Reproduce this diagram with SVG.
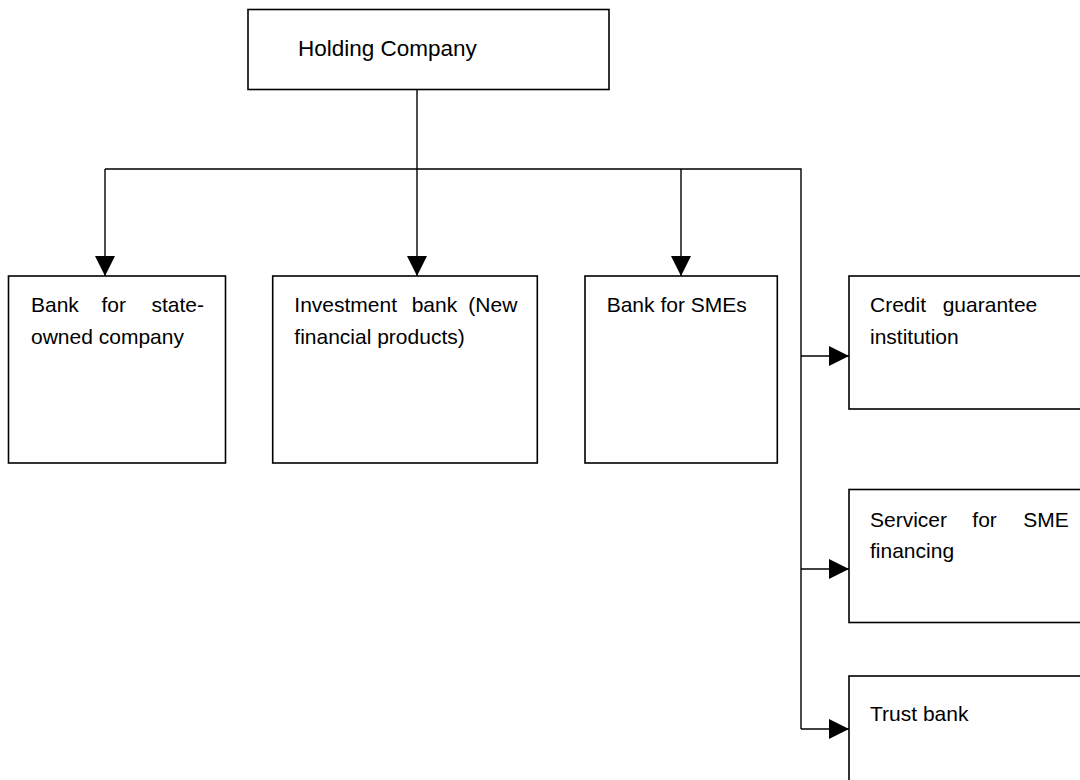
<svg xmlns="http://www.w3.org/2000/svg" width="1080" height="780" viewBox="0 0 1080 780">
<defs>
<style>
.box{fill:#fff;stroke:#000;stroke-width:1.6}
.ln{fill:none;stroke:#000;stroke-width:1.4}
.t{font-family:"Liberation Sans",Arial,sans-serif;font-size:21px;fill:#000}
.h{font-family:"Liberation Sans",Arial,sans-serif;font-size:22.5px;fill:#000}
</style>
<marker id="ah" markerUnits="userSpaceOnUse" markerWidth="20" markerHeight="20" viewBox="0 0 20 20" refX="20" refY="10" orient="auto">
<polygon points="0,0 20,10 0,20" fill="#000"/>
</marker>
</defs>
<rect width="1080" height="780" fill="#fff"/>
<g id="connectors">
<path class="ln" d="M417,89 V169"/>
<path class="ln" d="M105,169 H801 V729"/>
<path class="ln" d="M105,169 V276" marker-end="url(#ah)"/>
<path class="ln" d="M417,169 V276" marker-end="url(#ah)"/>
<path class="ln" d="M681,169 V276" marker-end="url(#ah)"/>
<path class="ln" d="M801,356 H849" marker-end="url(#ah)"/>
<path class="ln" d="M801,569 H849" marker-end="url(#ah)"/>
<path class="ln" d="M801,729 H849" marker-end="url(#ah)"/>
</g>
<g id="holding">
<rect class="box" x="248" y="9.5" width="361" height="80"/>
<text class="h" x="298" y="56">Holding Company</text>
</g>
<g id="bank-state">
<rect class="box" x="8.5" y="276" width="217" height="187"/>
<text class="t" y="312"><tspan x="31">Bank</tspan><tspan x="101.5">for</tspan><tspan x="151.5">state-</tspan></text>
<text class="t" x="31" y="344">owned company</text>
</g>
<g id="investment">
<rect class="box" x="272.7" y="276" width="264.6" height="187"/>
<text class="t" y="312"><tspan x="294.3">Investment</tspan><tspan x="411.7">bank</tspan><tspan x="468.3">(New</tspan></text>
<text class="t" x="294.3" y="344">financial products)</text>
</g>
<g id="sme-bank">
<rect class="box" x="585" y="276" width="192.3" height="187"/>
<text class="t" x="606.7" y="312">Bank for SMEs</text>
</g>
<g id="credit">
<rect class="box" x="849" y="276" width="250" height="133"/>
<text class="t" y="312"><tspan x="870">Credit</tspan><tspan x="942.7">guarantee</tspan></text>
<text class="t" x="870" y="344">institution</text>
</g>
<g id="servicer">
<rect class="box" x="849" y="489.5" width="250" height="133"/>
<text class="t" y="526.5"><tspan x="870">Servicer</tspan><tspan x="972.3">for</tspan><tspan x="1023.3">SME</tspan></text>
<text class="t" x="870" y="558">financing</text>
</g>
<g id="trust">
<rect class="box" x="849" y="676" width="250" height="130"/>
<text class="t" x="870" y="721">Trust bank</text>
</g>
</svg>
